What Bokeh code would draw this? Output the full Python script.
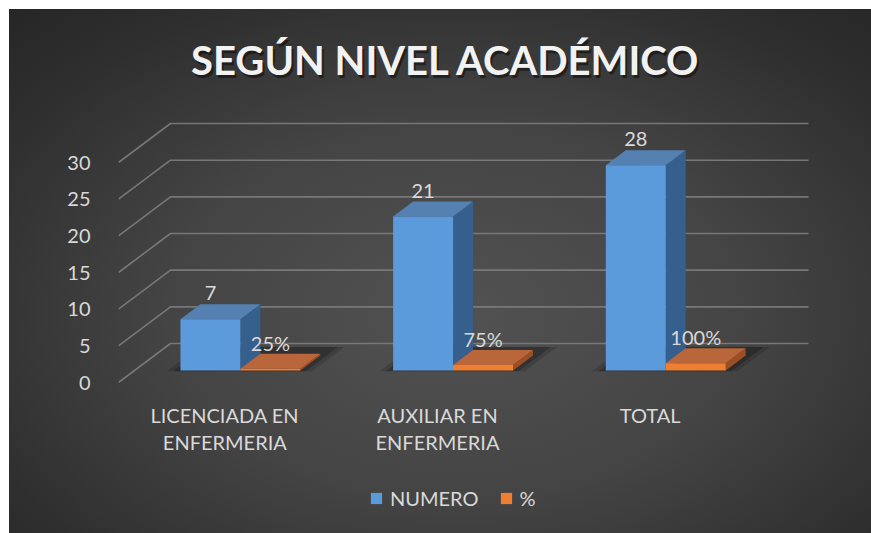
from bokeh.plotting import figure
from bokeh.models import Range1d, LinearAxis, FixedTicker, Label, ColumnDataSource
from bokeh.core.properties import value
from bokeh.embed import file_html
from bokeh.resources import INLINE

# ---------------- data ----------------
categories = ["LICENCIADA EN\nENFERMERIA", "AUXILIAR EN\nENFERMERIA", "TOTAL"]
numero = [7, 21, 28]
porcentaje = [0.25, 0.75, 1.00]
pct_labels = ["25%", "75%", "100%"]
series_names = ["NUMERO", "%"]
y_ticks = [0, 5, 10, 15, 20, 25, 30]
title_text = "SEGÚN NIVEL ACADÉMICO"

# ---------------- layout / style ----------------
OFF = 9                    # offset of the chart inside the page
W, H = 871 - OFF, 533 - OFF
LEFT = 109                 # left border (axis labels)
CAT_PX = 212.67            # pixels per category (front plane)
UNIT_PX = 7.333            # pixels per value unit
ZERO_Y = 382 - OFF         # canvas y of front-floor zero line
DEPTH_PX = (52.0, 39.0)    # wall depth offset in px
DX = DEPTH_PX[0] / CAT_PX
DY = DEPTH_PX[1] / UNIT_PX
BAR_PAD = 0.216
BAR_W = 0.282
D0, D1 = 0.308, 0.692      # bar depth span (fraction of wall depth)

FONT = "Lato"
TXT = "#d9d9d9"
GRID = "#7d7d7d"
BLUE = dict(front="#5b9bdc", top="#5480b2", side="#355f8d")
ORANGE = dict(front="#ee7f30", top="#b9663a", side="#9c4f22")
colors = [BLUE, ORANGE]

frame_w = W - LEFT
p = figure(width=W, height=H, output_backend="svg", toolbar_location=None,
           title=None, x_axis_location=None, y_axis_location=None,
           x_range=Range1d(0, frame_w / CAT_PX),
           y_range=Range1d(-(H - ZERO_Y) / UNIT_PX, ZERO_Y / UNIT_PX),
           min_border_left=LEFT, min_border_right=0, min_border_top=0, min_border_bottom=0)
p.margin = (OFF, 0, 0, OFF)
p.styles = {"background": "radial-gradient(ellipse 75% 80% at 52% 58%, #525252 0%, #444444 45%, #2f2f2f 80%, #262626 100%)"}
p.border_fill_color = None
p.background_fill_color = None
p.outline_line_color = None
p.xgrid.visible = False
p.ygrid.visible = False


def proj(x, v, d):
    return x + d * DX, v + d * DY


# ---------------- walls / gridlines ----------------
ncat = len(categories)
gx, gy = [], []
for t in y_ticks:
    a = proj(0, t, 0); b = proj(0, t, 1); c = proj(ncat, t, 1)
    gx.append([a[0], b[0], c[0]]); gy.append([a[1], b[1], c[1]])
p.multi_line(gx, gy, line_color=GRID, line_width=1.6, line_alpha=0.9)

# y axis (front plane)
yax = LinearAxis(ticker=FixedTicker(ticks=y_ticks))
yax.axis_line_color = None
yax.major_tick_line_color = None
yax.minor_tick_line_color = None
yax.major_label_standoff = 22
yax.major_label_text_font = FONT
yax.major_label_text_font_size = "20px"
yax.major_label_text_color = TXT
p.add_layout(yax, "left")

# ---------------- floor shadows ----------------
for i in range(ncat):
    xa = i + BAR_PAD
    xb = i + BAR_PAD + 2 * BAR_W
    for grow, alpha in [(0.06, 0.15), (0.03, 0.22)]:
        pts = [proj(xa - grow, 0, D0 - 0.02), proj(xb + grow, 0, D0 - 0.02),
               proj(xb + grow, 0, D1 + 0.22), proj(xa - grow, 0, D1 + 0.22)]
        p.patch([q[0] for q in pts], [q[1] for q in pts], fill_color="black",
                fill_alpha=alpha, line_color=None)

# ---------------- 3D bars ----------------
series = [numero, porcentaje]
front_src = [dict(xs=[], ys=[]) for _ in series]
top_src = [dict(xs=[], ys=[]) for _ in series]
side_src = [dict(xs=[], ys=[]) for _ in series]
for i in range(ncat):
    for s, vals in enumerate(series):
        v = vals[i]
        x0 = i + BAR_PAD + s * BAR_W
        x1 = x0 + BAR_W
        fr = [proj(x0, 0, D0), proj(x1, 0, D0), proj(x1, v, D0), proj(x0, v, D0)]
        tp = [proj(x0, v, D0), proj(x1, v, D0), proj(x1, v, D1), proj(x0, v, D1)]
        sd = [proj(x1, 0, D0), proj(x1, 0, D1), proj(x1, v, D1), proj(x1, v, D0)]
        for src, poly in [(front_src[s], fr), (top_src[s], tp), (side_src[s], sd)]:
            src["xs"].append([q[0] for q in poly])
            src["ys"].append([q[1] for q in poly])

for i in range(ncat):
    for s in range(len(series)):
        for src, key in [(side_src[s], "side"), (top_src[s], "top")]:
            p.patch(src["xs"][i], src["ys"][i], fill_color=colors[s][key], line_color=None)
        kw = {}
        if i == 0:
            kw["legend_label"] = series_names[s]
        p.patch(front_src[s]["xs"][i], front_src[s]["ys"][i],
                fill_color=colors[s]["front"], line_color=None, **kw)

# ---------------- data labels ----------------
lab_x, lab_y, lab_t = [], [], []
for s, vals in enumerate(series):
    for i, v in enumerate(vals):
        cx = i + BAR_PAD + s * BAR_W + BAR_W / 2
        lab_x.append(cx + D0 * DX)
        lab_y.append(v + D1 * DY)
        lab_t.append(str(v) if s == 0 else pct_labels[i])
p.text(x=lab_x, y=lab_y, text=lab_t, text_font=value(FONT), text_font_size="20px",
       text_color=TXT, text_align="center", text_baseline="middle", y_offset=-11)

# ---------------- category labels ----------------
cx, cy, ct, coff = [], [], [], []
for i, c in enumerate(categories):
    for k, line in enumerate(c.split("\n")):
        cx.append(i + 0.5); cy.append(0); ct.append(line); coff.append(32 + k * 27.5)
src = ColumnDataSource(dict(x=cx, y=cy, t=ct, off=coff))
p.text(x="x", y="y", text="t", y_offset="off", source=src, text_font=value(FONT),
       text_font_size="20px", text_color=TXT, text_align="center", text_baseline="middle")

# ---------------- title ----------------
tx = 445.5 - OFF - LEFT
ty = H - (59 - OFF)
p.add_layout(Label(x=tx + 2, y=ty - 3, x_units="screen", y_units="screen", text=title_text,
                   text_font=FONT, text_font_style="bold", text_font_size="40px",
                   text_color="black", text_alpha=0.45, text_align="center",
                   text_baseline="middle"))
p.add_layout(Label(x=tx, y=ty, x_units="screen", y_units="screen", text=title_text,
                   text_font=FONT, text_font_style="bold", text_font_size="40px",
                   text_color="#f2f2f2", text_align="center", text_baseline="middle"))

# ---------------- legend ----------------
lg = p.legend[0]
lg.orientation = "horizontal"
lg.location = (369 - OFF - LEFT, 533 - 510)
lg.padding = 0
lg.margin = 0
lg.spacing = 20
lg.glyph_width = 14
lg.glyph_height = 14
lg.label_standoff = 7
lg.label_text_font = FONT
lg.label_text_font_size = "20px"
lg.label_text_color = TXT
lg.border_line_color = None
lg.background_fill_alpha = 0

open("out.html", "w").write(file_html(p, INLINE))
